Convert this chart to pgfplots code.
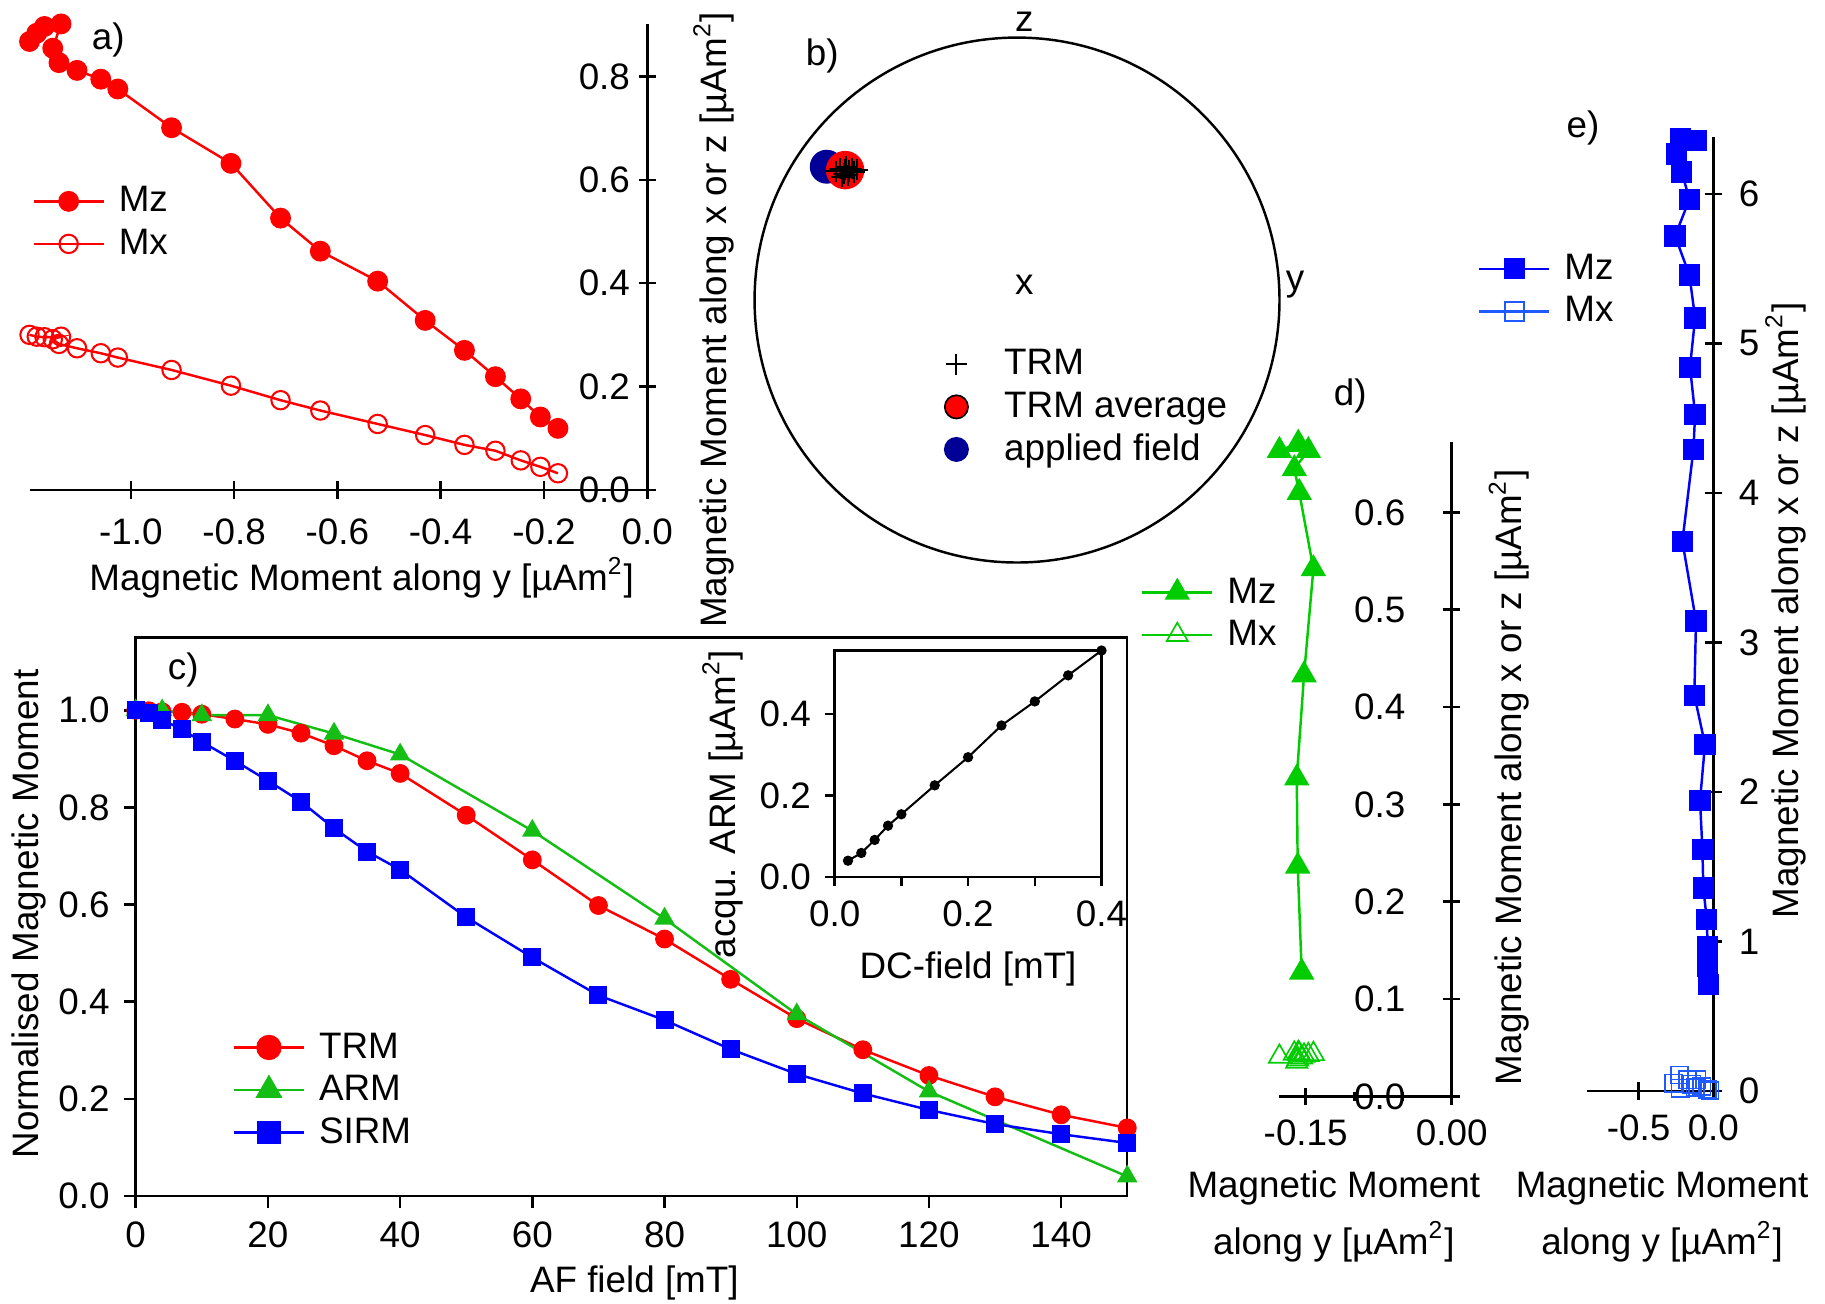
\documentclass[border=0pt]{standalone}
\usepackage{pgfplots}
\pgfplotsset{compat=1.18}
\usepackage{fontspec}
\setmainfont{Liberation Sans}
\definecolor{myred}{RGB}{255,0,0}
\definecolor{mygreen}{RGB}{0,204,0}
\definecolor{cgreen}{RGB}{20,190,20}
\definecolor{myblue}{RGB}{0,0,255}
\definecolor{mxblue}{RGB}{30,90,255}
\definecolor{navy}{RGB}{0,0,150}
\newcommand{\fs}{\fontsize{9}{11}\selectfont}
\newcommand{\uam}{[µAm\textsuperscript{2}]}
\pgfplotsset{
  every axis/.append style={font=\fs},
  zij/.style={axis lines=middle, axis line style={-, line width=0.6pt}, tick align=center,
    major tick length=0.15cm, minor tick length=0.08cm, tick style={line width=0.6pt, black}, clip=false,
    hide obscured x ticks=false, hide obscured y ticks=false, tick label style={font=\fs}},
  leg/.style={legend style={draw=none, fill=none, inner sep=0pt, outer sep=0pt, row sep=0pt, column sep=0.05cm,
    nodes={inner xsep=2pt, inner ysep=1pt, text height=6.8pt, text depth=1.6pt, font=\fs}},
    legend cell align=left},
}
\begin{document}
\begin{tikzpicture}[font=\fs]
\useasboundingbox (0,0) rectangle (15.68,11.20);

% ---------------- panel a ----------------
\begin{axis}[zij, leg, x=4.438cm, y=4.438cm, xmin=-1.195, xmax=0.013, ymin=-0.015, ymax=0.901,
  at={(0.258cm,6.925cm)}, anchor=south west,
  xtick={-1,-0.8,-0.6,-0.4,-0.2,0}, xticklabels={-1.0,-0.8,-0.6,-0.4,-0.2,0.0},
  ytick={0,0.2,0.4,0.6,0.8}, yticklabels={0.0,0.2,0.4,0.6,0.8},
  xticklabel style={yshift=-0.05cm}, yticklabel style={xshift=0.05cm},
  legend style={at={(0.004,0.671)}, anchor=north west}]
\addplot[myred, line width=0.6pt, mark=*, mark size=2.25pt, mark options={solid}] coordinates {
(-1.196,0.868) (-1.182,0.884) (-1.167,0.897) (-1.135,0.902) (-1.151,0.855) (-1.139,0.827)
(-1.104,0.812) (-1.058,0.795) (-1.025,0.776) (-0.921,0.701) (-0.806,0.632) (-0.710,0.526)
(-0.633,0.462) (-0.522,0.404) (-0.430,0.328) (-0.354,0.270) (-0.294,0.219) (-0.245,0.176)
(-0.207,0.141) (-0.173,0.119)};
\addlegendentry{Mz}
\addplot[myred, line width=0.6pt, mark=o, mark size=2.25pt, mark options={solid, line width=0.5pt}] coordinates {
(-1.196,0.300) (-1.182,0.2965) (-1.167,0.2954) (-1.135,0.2965) (-1.151,0.2915) (-1.139,0.2824)
(-1.104,0.274) (-1.058,0.2644) (-1.025,0.256) (-0.921,0.232) (-0.806,0.2016) (-0.710,0.1735)
(-0.633,0.1535) (-0.522,0.1275) (-0.430,0.106) (-0.354,0.087) (-0.294,0.0756) (-0.245,0.057)
(-0.207,0.0445) (-0.173,0.032)};
\addlegendentry{Mx}
\end{axis}
\node at (0.93,10.856) {a)};
\node at (3.107,6.235) {Magnetic Moment along y \uam};
\node[rotate=90] at (6.13,8.452) {Magnetic Moment along x or z \uam};

% ---------------- panel b ----------------
\begin{axis}[hide axis, leg, x=2.255cm, y=2.255cm, xmin=-1, xmax=1, ymin=-1, ymax=1,
  at={(6.483cm,6.367cm)}, anchor=south west, clip=false,
  legend style={at={(0.3623,0.418)}, anchor=north west, column sep=0.24cm}]
\draw[line width=0.6pt] (axis cs:0,0) circle[radius=2.255cm];
\addplot[forget plot, only marks, mark=*, mark size=3.95pt, color=navy] coordinates {(-0.725,0.508)};
\addplot[forget plot, only marks, mark=*, mark size=4.5pt, color=myred] coordinates {(-0.655,0.495)};
\addplot[only marks, mark=+, mark size=2.6pt, black, line width=0.5pt] coordinates {
(-0.69,0.490) (-0.675,0.500) (-0.66,0.482) (-0.65,0.508) (-0.64,0.492) (-0.63,0.500)
(-0.62,0.488) (-0.655,0.498) (-0.645,0.475) (-0.61,0.497) (-0.668,0.470)};
\addlegendentry{TRM}
\addlegendimage{only marks, mark=*, mark size=2.85pt, mark options={fill=myred, draw=black}}
\addlegendentry{TRM average}
\addlegendimage{only marks, mark=*, mark size=2.85pt, color=navy}
\addlegendentry{applied field}
\end{axis}
\node at (8.80,11.01) {z};
\node at (8.80,8.752) {x};
\node at (11.126,8.752) {y};
\node at (7.065,10.723) {b)};

% ---------------- panel c ----------------
\begin{axis}[leg, scale only axis, width=8.519cm, height=4.798cm, at={(1.166cm,0.925cm)}, anchor=south west,
  xmin=0, xmax=150, ymin=0, ymax=1.15, axis line style={line width=0.6pt},
  tick align=outside, tick pos=left, major tick length=0.1cm, tick style={line width=0.6pt, black},
  xtick={0,20,40,60,80,100,120,140}, xticklabels={0,20,40,60,80,100,120,140},
  ytick={0,0.2,0.4,0.6,0.8,1.0}, yticklabels={0.0,0.2,0.4,0.6,0.8,1.0},
  tick label style={font=\fs}, clip=false,
  legend style={at={(0.0979,0.3039)}, anchor=north west}]
\addplot[myred, line width=0.6pt, mark=*, mark size=2pt, mark options={solid}, legend image post style={mark size=2.8pt}] coordinates {
(0,1.0) (2,0.999) (4,0.997) (7,0.996) (10,0.992) (15,0.982) (20,0.971) (25,0.953) (30,0.927)
(35,0.896) (40,0.870) (50,0.784) (60,0.692) (70,0.598) (80,0.529) (90,0.446) (100,0.365)
(110,0.301) (120,0.248) (130,0.204) (140,0.167) (150,0.140)};
\addlegendentry{TRM}
\addplot[cgreen, line width=0.6pt, mark=triangle*, mark size=2.3pt, mark options={solid}, legend image post style={mark size=3.2pt}] coordinates {
(0,1.0) (4,1.0) (10,0.99) (20,0.99) (30,0.952) (40,0.909) (60,0.752) (80,0.571) (100,0.374)
(120,0.215) (150,0.040)};
\addlegendentry{ARM}
\addplot[myblue, line width=0.6pt, mark=square*, mark size=1.9pt, mark options={solid}, legend image post style={mark size=2.6pt}] coordinates {
(0,1.0) (2,0.994) (4,0.98) (7,0.961) (10,0.935) (15,0.896) (20,0.855) (25,0.812) (30,0.757)
(35,0.709) (40,0.672) (50,0.574) (60,0.491) (70,0.413) (80,0.362) (90,0.302) (100,0.251)
(110,0.211) (120,0.177) (130,0.148) (140,0.127) (150,0.109)};
\addlegendentry{SIRM}
\end{axis}
\node at (1.575,5.443) {c)};
\node[rotate=90] at (0.252,3.347) {Normalised Magnetic Moment};
\node at (5.45,0.18) {AF field [mT]};

% inset
\begin{axis}[scale only axis, width=2.293cm, height=1.946cm, at={(7.171cm,3.665cm)}, anchor=south west,
  xmin=0, xmax=0.4, ymin=0, ymax=0.556, axis line style={line width=0.6pt},
  tick align=outside, tick pos=left, major tick length=0.08cm, tick style={line width=0.6pt, black},
  xtick={0,0.1,0.2,0.3,0.4}, xticklabels={0.0,,0.2,,0.4},
  ytick={0,0.2,0.4}, yticklabels={0.0,0.2,0.4}, tick label style={font=\fs}, clip=false]
\addplot[black, line width=0.5pt, mark=*, mark size=1pt] coordinates {
(0.02,0.040) (0.04,0.059) (0.06,0.091) (0.08,0.126) (0.10,0.154) (0.15,0.225) (0.20,0.294)
(0.25,0.372) (0.30,0.431) (0.35,0.495) (0.40,0.556)};
\end{axis}
\node[rotate=90] at (6.207,4.292) {acqu. ARM \uam};
\node at (8.317,2.879) {DC-field [mT]};

% ---------------- panel d ----------------
\begin{axis}[zij, leg, x=8.363cm, y=8.363cm, xmin=-0.1774, xmax=0.0068, ymin=-0.0048, ymax=0.6727,
  at={(10.989cm,1.740cm)}, anchor=south west,
  xtick={-0.15,0}, xticklabels={-0.15,0.00}, minor xtick={-0.1,-0.05},
  ytick={0,0.1,0.2,0.3,0.4,0.5,0.6}, yticklabels={0.0,0.1,0.2,0.3,0.4,0.5,0.6},
  yticklabel style={xshift=-0.2cm},
  legend style={at={(-0.769,0.8036)}, anchor=north west}]
\addplot[mygreen, line width=0.6pt, mark=triangle*, mark size=3pt, mark options={solid}] coordinates {
(-0.1576,0.671) (-0.177,0.6635) (-0.1473,0.6635) (-0.1617,0.6447) (-0.1566,0.6203)
(-0.1421,0.542) (-0.1517,0.433) (-0.1592,0.327) (-0.1582,0.2365) (-0.1541,0.1276)};
\addlegendentry{Mz}
\addplot[forget plot, only marks, mygreen, mark=triangle, mark size=3pt, mark options={line width=0.4pt}] coordinates {
(-0.1576,0.0446) (-0.177,0.0408) (-0.1473,0.0425) (-0.1617,0.044) (-0.1566,0.0436)
(-0.1421,0.0436) (-0.1517,0.0419) (-0.1592,0.0357) (-0.1582,0.038) (-0.1541,0.040)};
\addlegendimage{mygreen, line width=0.6pt, mark=triangle, mark size=3pt, mark options={line width=0.4pt}}
\addlegendentry{Mx}
\end{axis}
\node at (11.60,7.80) {d)};
\node at (11.46,0.99) {Magnetic Moment};
\node at (11.46,0.53) {along y \uam};
\node[rotate=90] at (12.965,4.523) {Magnetic Moment along x or z \uam};

% ---------------- panel e ----------------
\begin{axis}[zij, leg, x=1.285cm, y=1.285cm, xmin=-0.844, xmax=0.03, ymin=-0.03, ymax=6.38,
  at={(13.636cm,1.786cm)}, anchor=south west,
  xtick={-0.5,0}, xticklabels={-0.5,0.0},
  ytick={0,1,2,3,4,5,6}, yticklabels={0,1,2,3,4,5,6},
  yticklabel style={anchor=west, xshift=0.17cm},
  legend style={at={(-0.8335,0.8847)}, anchor=north west}]
\addplot[myblue, line width=0.6pt, mark=square*, mark size=2.3pt, mark options={solid}] coordinates {
(-0.222,6.366) (-0.111,6.355) (-0.244,6.266) (-0.211,6.146) (-0.160,5.963) (-0.256,5.718)
(-0.160,5.457) (-0.122,5.170) (-0.156,4.841) (-0.122,4.527) (-0.133,4.292) (-0.207,3.676)
(-0.116,3.144) (-0.127,2.648) (-0.056,2.319) (-0.089,1.943) (-0.073,1.614) (-0.067,1.358)
(-0.044,1.149) (-0.038,0.966) (-0.038,0.836) (-0.033,0.715)};
\addlegendentry{Mz}
\addplot[forget plot, only marks, mxblue, mark=square, mark size=2.1pt, mark options={line width=0.4pt}] coordinates {
(-0.227,0.109) (-0.267,0.054) (-0.222,0.020) (-0.173,0.076) (-0.144,0.047) (-0.111,0.076)
(-0.077,0.031) (-0.040,0.013) (-0.022,0.004) (-0.122,0.024)};
\addlegendimage{mxblue, line width=0.6pt, mark=square, mark size=2.3pt, mark options={line width=0.4pt}}
\addlegendentry{Mx}
\end{axis}
\node at (13.60,10.10) {e)};
\node at (14.28,0.99) {Magnetic Moment};
\node at (14.28,0.53) {along y \uam};
\node[rotate=90] at (15.34,5.956) {Magnetic Moment along x or z \uam};

\end{tikzpicture}
\end{document}
